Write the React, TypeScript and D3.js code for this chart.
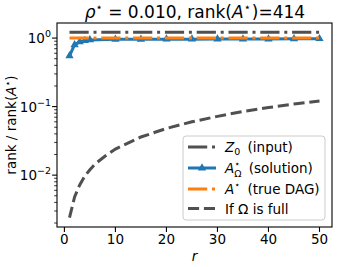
import React from 'react';
import * as d3 from 'd3';

// chart values
const solutionR = [1, 2, 3, 4, 5, 10, 15, 20, 25, 30, 35, 40, 45, 50];
const solutionVals = [0.55, 0.8, 0.88, 0.92, 0.94, 0.96, 0.96, 0.965, 0.965, 0.97, 0.97, 0.97, 0.975, 0.98];
const inputR = [1, 50];
const inputVals = [1.22, 1.22];
const trueR = [1, 50];
const trueVals = [1.0, 1.0];
const fullR = [1, 2, 3, 4, 5, 6, 8, 10, 15, 20, 25, 30, 35, 40, 45, 50];
const fullVals = [0.0024, 0.0048, 0.0072, 0.0097, 0.012, 0.0145, 0.019, 0.024, 0.036, 0.048, 0.06, 0.072, 0.085, 0.097, 0.109, 0.121];
const xTicks = [0, 10, 20, 30, 40, 50];
const yMajor = [0, -1, -2];

const W = 341;
const H = 267;
const box = { left: 57, right: 332, top: 23, bottom: 227 };
const font = 'DejaVu Sans, sans-serif';
const gray = '#505050';
const blue = '#1f77b4';
const orange = '#ff7f0e';
const dashDot = '19.2,4.8,3,4.8';
const dashed = '11.1,4.8';

const App = () => {
  const x = d3.scaleLinear().domain([-1.45, 52.45]).range([box.left, box.right]);
  const y = d3.scaleLog().domain([0.00175, 1.66]).range([box.bottom, box.top]);

  const line = d3
    .line<[number, number]>()
    .x((d) => x(d[0]))
    .y((d) => y(d[1]));
  const pts = (rs: number[], vs: number[]) => rs.map((r, i) => [r, vs[i]] as [number, number]);

  // minor log ticks
  const minor: number[] = [];
  [-3, -2, -1, 0].forEach((e) => {
    for (let k = 2; k <= 9; k++) {
      const v = k * Math.pow(10, e);
      if (v >= 0.00175 && v <= 1.66) minor.push(v);
    }
  });

  const tri = d3.symbol().type(d3.symbolTriangle).size(30)();

  // legend
  const lg = { left: 183, right: 325, top: 136, bottom: 220 };
  const rows = [147, 168, 189, 208.5];
  const hx0 = 188;
  const hx1 = 216;
  const tx = 225;

  return (
    <svg
      width={W}
      height={H}
      style={{ position: 'fixed', left: 0, top: 0, background: '#fff' }}
      fontFamily={font}
    >
      <rect width={W} height={H} fill="#fff" />

      {/* title */}
      <text x={195} y={18} fontSize={17} textAnchor="middle" fill="#000">
        <tspan fontStyle="italic">ρ</tspan>
        <tspan fontSize={11.5} dy={-7}>⋆</tspan>
        <tspan dy={7}> = 0.010, rank(</tspan>
        <tspan fontStyle="italic">A</tspan>
        <tspan fontSize={11.5} dy={-7}>⋆</tspan>
        <tspan dx={1} dy={7}>)=414</tspan>
      </text>

      {/* y label */}
      <text
        transform={`translate(16,${(box.top + box.bottom) / 2}) rotate(-90)`}
        fontSize={13.5}
        textAnchor="middle"
        fill="#000"
      >
        rank / rank(
        <tspan fontStyle="italic">A</tspan>
        <tspan fontSize={9.5} dy={-5}>⋆</tspan>
        <tspan dy={5}>)</tspan>
      </text>

      {/* x label */}
      <text x={(box.left + box.right) / 2} y={261} fontSize={13.5} fontStyle="italic" textAnchor="middle">
        r
      </text>

      {/* data lines */}
      <g fill="none" strokeWidth={3}>
        <path d={line(pts(inputR, inputVals)) || ''} stroke={gray} strokeDasharray={dashDot} />
        <path d={line(pts(solutionR, solutionVals)) || ''} stroke={blue} strokeLinejoin="round" />
        {solutionR.map((r, i) => (
          <path key={r} d={tri || ''} transform={`translate(${x(r)},${y(solutionVals[i])})`} fill={blue} stroke="none" />
        ))}
        <path d={line(pts(trueR, trueVals)) || ''} stroke={orange} strokeDasharray={dashDot} />
        <path d={line(pts(fullR, fullVals)) || ''} stroke={gray} strokeDasharray={dashed} />
      </g>

      {/* axes frame */}
      <rect
        x={box.left}
        y={box.top}
        width={box.right - box.left}
        height={box.bottom - box.top}
        fill="none"
        stroke="#000"
        strokeWidth={1.1}
      />

      {/* x ticks */}
      {xTicks.map((t) => (
        <g key={t}>
          <line x1={x(t)} x2={x(t)} y1={box.bottom} y2={box.bottom + 4.9} stroke="#000" strokeWidth={1.1} />
          <text x={x(t)} y={243.5} fontSize={13.5} textAnchor="middle" fill="#000">
            {t}
          </text>
        </g>
      ))}

      {/* y ticks */}
      {minor.map((v) => (
        <line key={v} x1={box.left - 2.8} x2={box.left} y1={y(v)} y2={y(v)} stroke="#000" strokeWidth={0.8} />
      ))}
      {yMajor.map((e) => {
        const yy = y(Math.pow(10, e));
        const sup = e === 0 ? '0' : `−${-e}`;
        return (
          <g key={e}>
            <line x1={box.left - 4.9} x2={box.left} y1={yy} y2={yy} stroke="#000" strokeWidth={1.1} />
            <text x={51} y={yy + 5} fontSize={13.5} textAnchor="end" fill="#000">
              10
              <tspan fontSize={9.5} dy={-6}>
                {sup}
              </tspan>
            </text>
          </g>
        );
      })}

      {/* legend */}
      <rect
        x={lg.left}
        y={lg.top}
        width={lg.right - lg.left}
        height={lg.bottom - lg.top}
        rx={3}
        fill="#fff"
        fillOpacity={0.8}
        stroke="#cccccc"
        strokeWidth={1}
      />
      <g fill="none" strokeWidth={3}>
        <line x1={hx0} x2={hx1} y1={rows[0]} y2={rows[0]} stroke={gray} strokeDasharray={dashDot} />
        <line x1={hx0} x2={hx1} y1={rows[1]} y2={rows[1]} stroke={blue} />
        <path d={tri || ''} transform={`translate(${(hx0 + hx1) / 2},${rows[1]})`} fill={blue} />
        <line x1={hx0} x2={hx1} y1={rows[2]} y2={rows[2]} stroke={orange} strokeDasharray={dashDot} />
        <line x1={hx0} x2={hx1} y1={rows[3]} y2={rows[3]} stroke={gray} strokeDasharray={dashed} />
      </g>
      <g fontSize={13.5} fill="#000">
        <text x={tx} y={rows[0] + 5}>
          <tspan fontStyle="italic">Z</tspan>
          <tspan fontSize={9.5} dy={3}>0</tspan>
          <tspan dx={3} dy={-3}> (input)</tspan>
        </text>
        <text x={tx} y={rows[1] + 5}>
          <tspan fontStyle="italic">A</tspan>
          <tspan fontSize={9.5} dy={-6}>⋆</tspan>
          <tspan fontSize={9.5} dx={-6} dy={10}>Ω</tspan>
          <tspan dx={3} dy={-4}> (solution)</tspan>
        </text>
        <text x={tx} y={rows[2] + 5}>
          <tspan fontStyle="italic">A</tspan>
          <tspan fontSize={9.5} dy={-6}>⋆</tspan>
          <tspan dx={3} dy={6}> (true DAG)</tspan>
        </text>
        <text x={tx} y={rows[3] + 5}>
          If Ω is full
        </text>
      </g>
    </svg>
  );
};

export default App;
